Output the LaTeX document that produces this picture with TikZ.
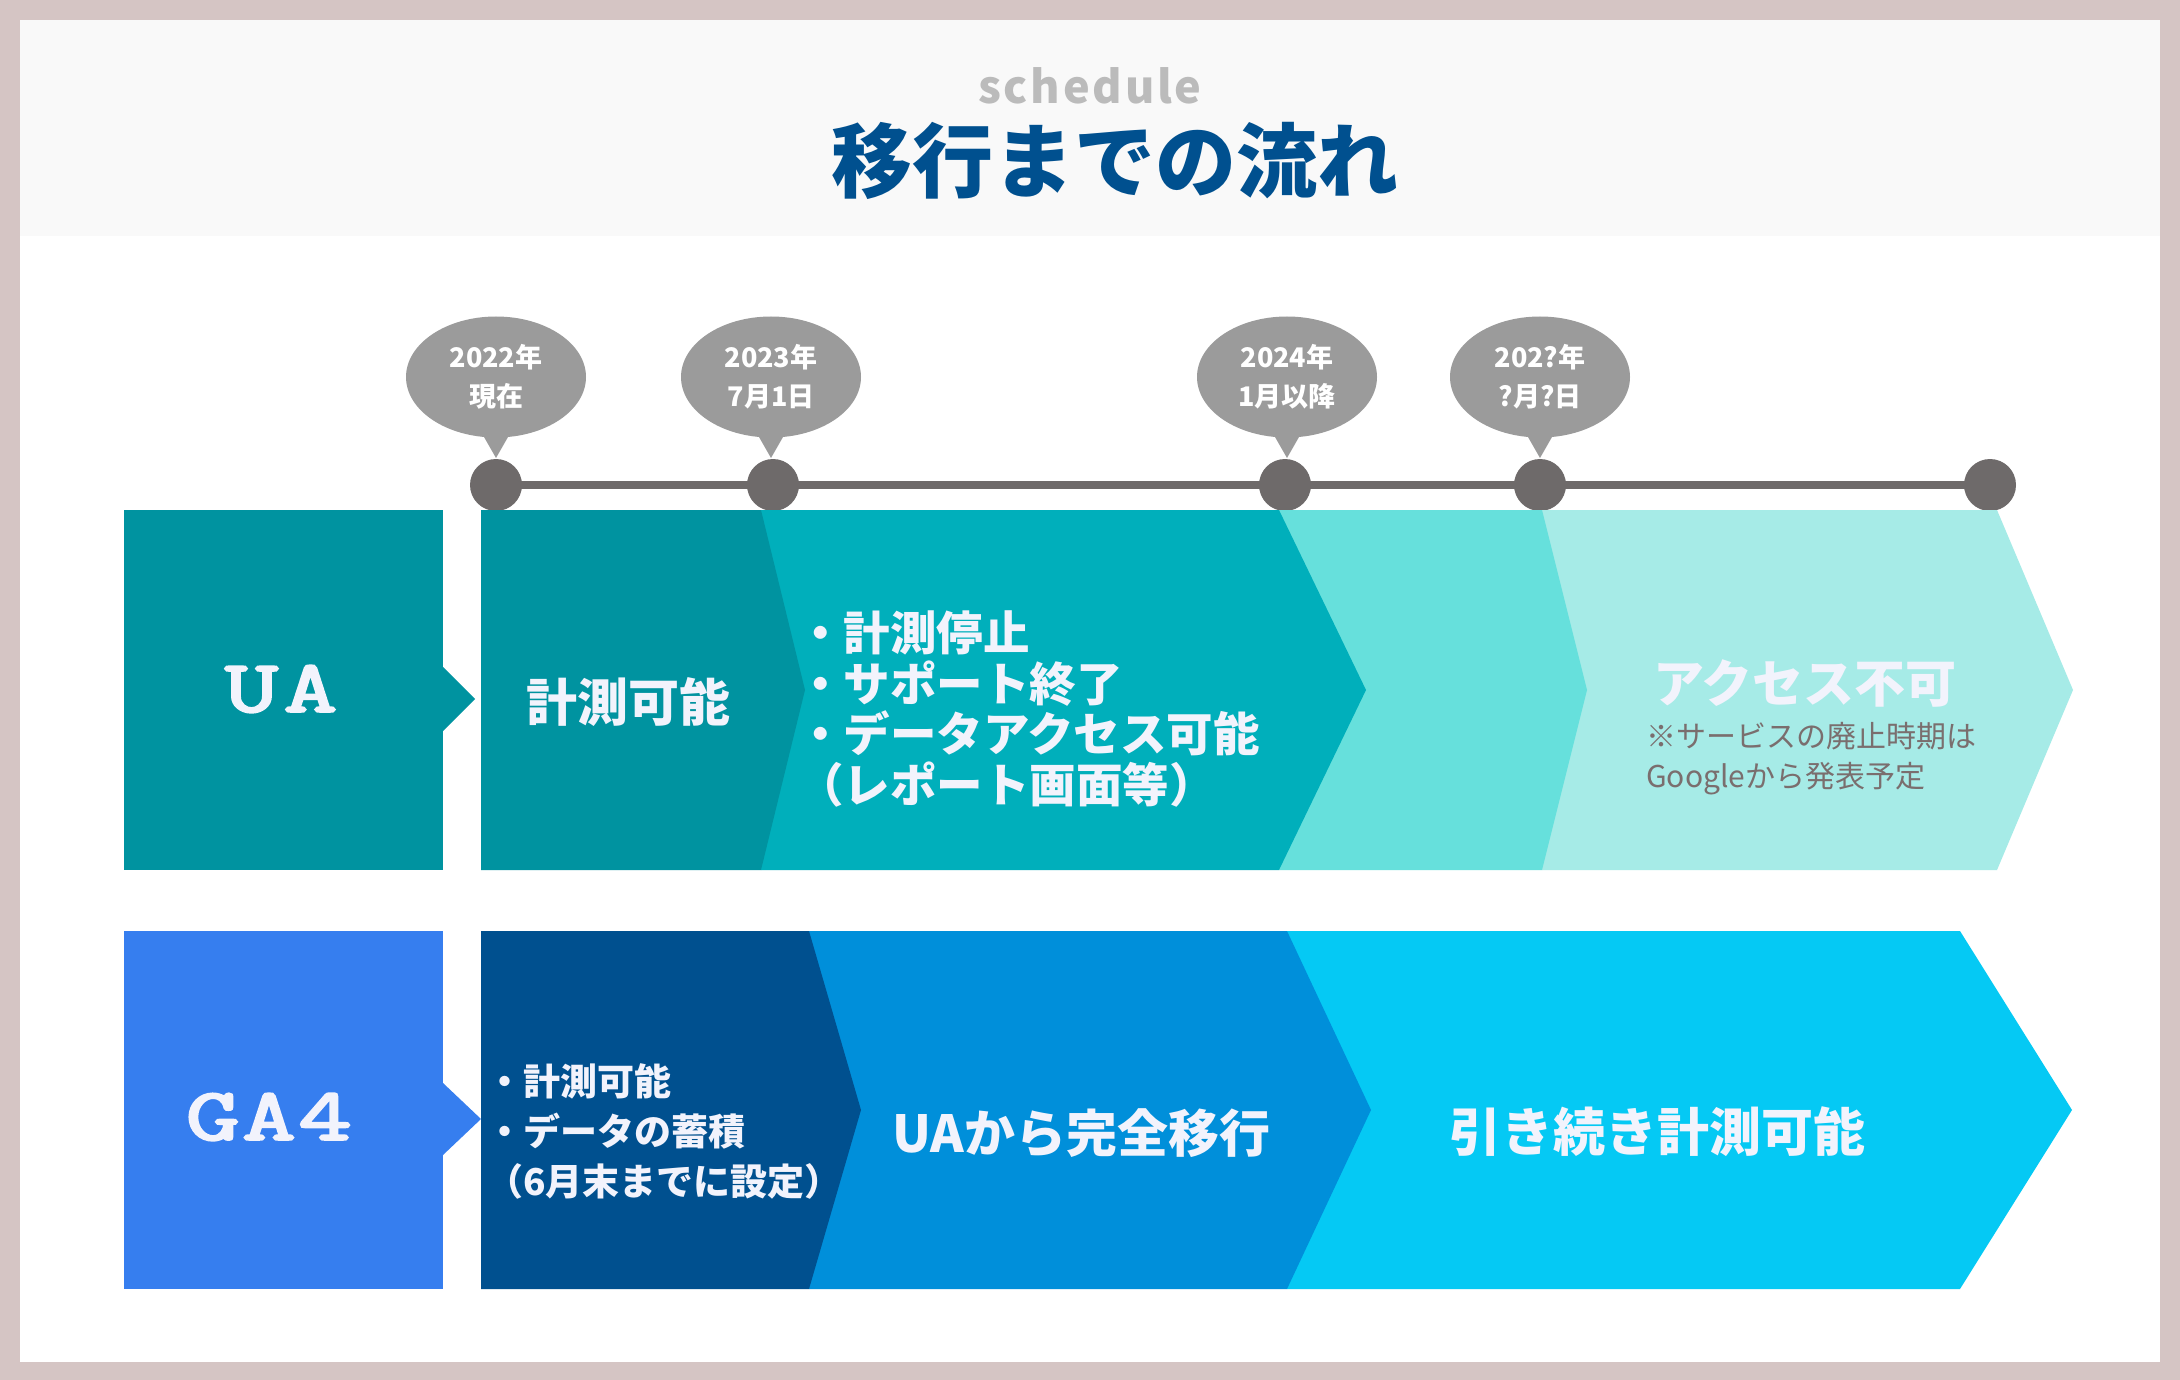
\documentclass[tikz,border=0pt]{standalone}
\usepackage{fontspec}
\usetikzlibrary{shapes.geometric}
\newfontfamily\jp{Noto Sans CJK JP}
\newfontfamily\sched[LetterSpace=6]{Noto Sans CJK JP}
\newfontfamily\slab[FakeBold=3]{Latin Modern Mono}
\definecolor{frame}{HTML}{D5C5C4}
\definecolor{headbg}{HTML}{F9F9F9}
\definecolor{titleblue}{HTML}{00508F}
\definecolor{schedgray}{HTML}{BBBBBB}
\definecolor{uaA}{HTML}{0093A0}
\definecolor{uaB}{HTML}{00AFBB}
\definecolor{uaC}{HTML}{66E0DC}
\definecolor{uaD}{HTML}{A6EBE7}
\definecolor{gaBox}{HTML}{367EEF}
\definecolor{gaA}{HTML}{00508F}
\definecolor{gaB}{HTML}{008FDA}
\definecolor{gaC}{HTML}{05C9F4}
\definecolor{txtw}{HTML}{F2F3FC}
\definecolor{bub}{HTML}{9B9B9B}
\definecolor{tline}{HTML}{6E6A6A}
\definecolor{notegray}{HTML}{7A6E6E}
\tikzset{
  bubble/.style={ellipse, fill=bub, minimum width=180pt, minimum height=121pt, inner sep=0pt,
    text=white, align=center, font=\jp\bfseries\fontsize{27pt}{39pt}\selectfont},
  tdot/.style={circle, fill=tline, minimum size=52pt, inner sep=0pt},
  wtext/.style={text=txtw, inner sep=0pt},
  big/.style={wtext, font=\jp\bfseries\fontsize{51pt}{60pt}\selectfont},
  list/.style={wtext, align=left, anchor=west},
  rowlabel/.style={text=txtw, inner sep=0pt, font=\slab\fontsize{74pt}{80pt}\selectfont},
}
\begin{document}
\begin{tikzpicture}[x=1pt,y=-1pt]
\useasboundingbox (0,0) rectangle (2180,1380);
% frame and header
\fill[frame] (0,0) rectangle (2180,1380);
\fill[white] (20,20) rectangle (2160,1362);
\fill[headbg] (20,20) rectangle (2160,236);
\node[text=schedgray, inner sep=0pt, font=\sched\bfseries\fontsize{45pt}{50pt}\selectfont] (sch) at (1090,86) {schedule};
\node[text=titleblue, inner sep=0pt, font=\jp\bfseries\fontsize{81pt}{90pt}\selectfont] (title) at (1115,161) {移行までの流れ};

% timeline
\coordinate (p1) at (496,485);
\coordinate (p2) at (773,485);
\coordinate (p3) at (1285,485);
\coordinate (p4) at (1540,485);
\coordinate (p5) at (1990,485);
\draw[tline, line width=8pt] (p1) -- (p5);
\foreach \i in {1,...,5} {\node[tdot] (d\i) at (p\i) {};}

% bubbles
\foreach \x in {496, 771, 1287, 1540} {
  \fill[bub] (\x-16,430) -- (\x+16,430) -- (\x,458) -- cycle;
}
\node[bubble] (b1) at (496,377) {2022年\\現在};
\node[bubble] (b2) at (771,377) {2023年\\7月1日};
\node[bubble] (b3) at (1287,377) {2024年\\1月以降};
\node[bubble] (b4) at (1540,377) {202?年\\?月?日};

% UA row
\fill[uaA] (124,510) rectangle (443,870);
\fill[uaA] (443,667) -- (475,699) -- (443,731) -- cycle;
\fill[uaD] (1542,510) -- (1997,510) -- (2073,690) -- (1997,870) -- (1542,870) -- cycle;
\fill[uaC] (1279,510) -- (1542,510) -- (1587,690) -- (1542,870) -- (1279,870) -- cycle;
\fill[uaB] (761,510) -- (1279,510) -- (1366,690) -- (1279,870) -- (761,870) -- cycle;
\fill[uaA] (481,510) -- (761,510) -- (805,690) -- (761,870) -- (481,870) -- cycle;
\node[rowlabel] (ua) at (281,689) {\scalebox{1.4}[1]{U\hspace{4pt}A}};
\node[big] (ua1) at (628,702) {計測可能};
\node[list, font=\jp\bfseries\fontsize{46.5pt}{50.5pt}\selectfont] (ua2) at (797,709)
  {・計測停止\\・サポート終了\\・データアクセス可能\\（レポート画面等）};
\node[big] (ua4) at (1805,683) {アクセス不可};
\node[anchor=west, align=left, inner sep=0pt, text=notegray, font=\jp\fontsize{30pt}{40pt}\selectfont] (note) at (1646,759)
  {※サービスの廃止時期は\\Googleから発表予定};

% GA4 row
\fill[gaBox] (124,931) rectangle (443,1289);
\fill[gaBox] (443,1083) -- (481,1119) -- (443,1155) -- cycle;
\fill[gaC] (1287,931) -- (1960,931) -- (2072,1110) -- (1960,1289) -- (1287,1289) -- cycle;
\fill[gaB] (809,931) -- (1287,931) -- (1371,1110) -- (1287,1289) -- (809,1289) -- cycle;
\fill[gaA] (481,931) -- (809,931) -- (861,1110) -- (809,1289) -- (481,1289) -- cycle;
\node[rowlabel] (ga) at (269,1117) {\scalebox{1.4}[1]{G\hspace{2pt}A\hspace{2pt}4}};
\node[list, font=\jp\bfseries\fontsize{37pt}{50pt}\selectfont] (ga1) at (486,1131)
  {・計測可能\\・データの蓄積\\（6月末までに設定）};
\node[big] (ga2) at (1081,1133) {UAから完全移行};
\node[big, font=\jp\bfseries\fontsize{52pt}{60pt}\selectfont] (ga3) at (1657,1132) {引き続き計測可能};
\end{tikzpicture}
\end{document}
